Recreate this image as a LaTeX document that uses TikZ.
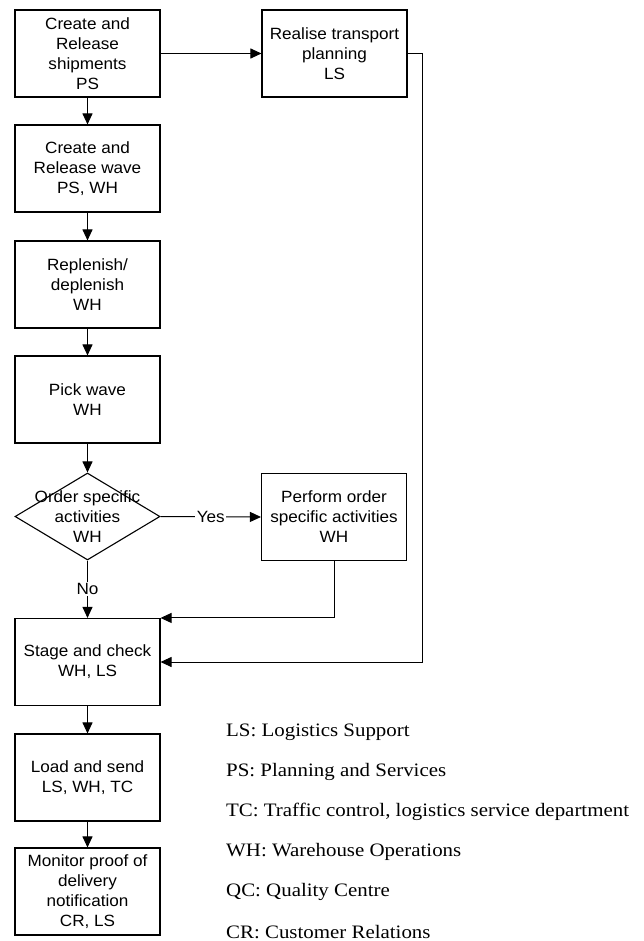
\documentclass[tikz,border=0pt]{standalone}
\usepackage{fontspec}
\setmainfont{Liberation Serif}[FakeStretch=1.1]
\newfontfamily\boxfont{Liberation Sans}[FakeStretch=1.05]
\usetikzlibrary{shapes.geometric,arrows.meta}

\tikzset{
  stepbox/.style={draw, line width=1.1pt, rectangle, minimum width=145pt,
    minimum height=87pt, inner sep=0pt, align=center,
    font=\boxfont\fontsize{16.3}{20}\selectfont},
  decision/.style={draw, line width=1.1pt, diamond, minimum width=145pt,
    minimum height=87pt, inner sep=0pt},
  flow/.style={line width=1pt, -{Triangle[length=11pt,width=10pt]}},
  plain/.style={line width=1pt},
  tag/.style={fill=white, inner sep=1.5pt, font=\boxfont\fontsize{16.3}{20}\selectfont},
  legend/.style={anchor=west, inner sep=0pt, font=\fontsize{19}{20}\selectfont}
}

\begin{document}
\begin{tikzpicture}[x=1pt, y=-1pt]
  \useasboundingbox (0,0) rectangle (643,941);

  % main process column
  \node[stepbox] (ship)  at (87.5, 53.5)  {Create and\\Release\\shipments\\PS};
  \node[stepbox] (trans) at (334.5, 53.5) {Realise transport\\planning\\LS};
  \node[stepbox] (wave)  at (87.5, 168.5) {Create and\\Release wave\\PS, WH};
  \node[stepbox] (repl)  at (87.5, 284.5) {Replenish/\\deplenish\\WH};
  \node[stepbox] (pick)  at (87.5, 399.5) {Pick wave\\WH};
  \node[decision] (order) at (87.5, 516.5) {};
  \node[align=center, font=\boxfont\fontsize{16.3}{20}\selectfont] (ordertext)
    at (order.center) {Order specific\\activities\\WH};
  \node[stepbox] (perf)  at (334, 517)    {Perform order\\specific activities\\WH};
  \node[stepbox] (stage) at (87.5, 662)   {Stage and check\\WH, LS};
  \node[stepbox] (load)  at (87.5, 777.5) {Load and send\\LS, WH, TC};
  \node[stepbox] (pod)   at (87.5, 891.5) {Monitor proof of\\delivery\\notification\\CR, LS};

  % bend of the return line from transport planning
  \coordinate (rbend) at (422, 53.5);

  % connectors
  \draw[flow] (ship.east) -- (trans.west);
  \draw[flow] (ship.south) -- (wave.north);
  \draw[flow] (wave.south) -- (repl.north);
  \draw[flow] (repl.south) -- (pick.north);
  \draw[flow] (pick.south) -- (order.north);
  \draw[flow] (order.east) -- node[tag] (yes) {Yes} (perf.west);
  \draw[flow] (order.south) -- node[tag] (no) {No} (stage.north);
  \draw[flow] (perf.south) |- (stage.north east);
  \draw[plain] (trans.east) -- (rbend);
  \draw[flow] (rbend) |- (stage.east);
  \draw[flow] (stage.south) -- (load.north);
  \draw[flow] (load.south) -- (pod.north);

  % abbreviations
  \node[legend] (lls) at (226, 732) {LS: Logistics Support};
  \node[legend] (lps) at (226, 772) {PS: Planning and Services};
  \node[legend] (ltc) at (226, 812) {TC: Traffic control, logistics service department};
  \node[legend] (lwh) at (226, 852) {WH: Warehouse Operations};
  \node[legend] (lqc) at (226, 892) {QC: Quality Centre};
  \node[legend] (lcr) at (226, 932) {CR: Customer Relations};
\end{tikzpicture}
\end{document}
